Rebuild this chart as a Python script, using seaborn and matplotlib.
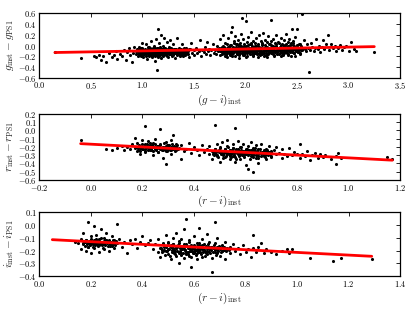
import matplotlib
matplotlib.use("Agg")
import matplotlib.pyplot as plt
import matplotlib.ticker as mticker
import pandas as pd
import seaborn as sns

# (colour_inst, mag_inst - mag_PS1) pairs
# g band: scattered stars
g_pts = [
    (0.15,-0.12),(0.40,-0.23),(0.53,-0.20),(0.55,-0.22),(0.58,-0.17),(0.60,-0.27),(0.62,-0.20),(0.65,-0.30),
    (0.68,-0.13),(0.70,-0.22),(0.72,-0.18),(0.74,-0.10),(0.75,-0.25),(0.78,-0.15),(0.80,-0.20),(0.82,-0.08),
    (0.84,-0.27),(0.85,-0.12),(0.87,-0.05),(0.88,-0.18),(0.90,-0.30),(0.91,-0.13),(0.92,-0.02),
    (0.94,-0.10),(0.94,-0.16),(0.95,-0.06),(0.96,-0.12),(0.96,-0.20),(0.97,-0.03),(0.98,-0.14),(0.98,-0.09),
    (0.99,-0.18),(1.00,-0.11),(1.00,-0.05),(1.00,0.05),(1.01,-0.22),(1.02,-0.08),(1.02,-0.13),(1.03,-0.16),
    (1.03,0.02),(1.04,-0.10),(1.04,-0.25),(1.05,-0.06),(1.05,-0.14),(1.06,-0.19),(1.06,-0.02),(1.07,-0.11),
    (1.07,-0.08),(1.08,-0.15),(1.08,0.08),(1.09,-0.12),(1.09,-0.21),(1.10,-0.04),(1.10,-0.09),(1.10,-0.17),
    (1.11,-0.13),(1.11,0.00),(1.12,-0.07),(1.12,-0.19),(1.12,-0.28),(1.13,-0.10),(1.13,-0.14),(1.13,0.12),
    (1.14,-0.05),(1.14,-0.45),(1.14,-0.16),(1.15,0.30),(1.15,-0.11),(1.15,-0.22),(1.16,-0.08),(1.16,-0.13),
    (1.16,0.04),(1.17,-0.18),(1.17,-0.02),(1.18,-0.10),(1.18,-0.24),(1.18,0.20),(1.19,-0.06),(1.19,-0.15),
    (1.20,-0.12),(1.20,-0.01),(1.20,-0.20),(1.21,-0.09),(1.21,0.15),(1.22,-0.14),(1.22,-0.05),(1.23,-0.17),
    (1.23,-0.11),(1.24,-0.08),(1.24,0.06),(1.25,-0.13),(1.25,-0.21),(1.26,-0.03),(1.26,-0.10),(1.27,-0.16),
    (1.27,0.10),(1.28,-0.07),(1.28,-0.12),(1.29,-0.19),(1.30,-0.09),(1.30,0.02),(1.31,-0.14),(1.32,-0.06),
    (1.32,-0.23),(1.33,-0.11),(1.34,-0.15),(1.34,0.14),(1.35,-0.04),(1.36,-0.10),(1.36,-0.18),(1.37,-0.07),
    (1.38,-0.13),(1.38,0.03),(1.39,-0.20),(1.40,-0.09),(1.41,-0.12),(1.42,-0.05),(1.42,-0.16),(1.44,-0.10),
    (1.45,-0.22),(1.46,-0.07),(1.47,0.05),(1.48,-0.13),(1.50,-0.09),(1.50,-0.18),
    (1.52,-0.05),(1.53,-0.14),(1.55,-0.10),(1.56,0.10),(1.57,-0.20),(1.58,-0.08),(1.60,-0.12),(1.61,-0.02),
    (1.62,-0.16),(1.63,0.07),(1.64,-0.10),(1.65,-0.06),(1.66,-0.18),(1.67,-0.09),(1.68,0.02),(1.69,-0.13),
    (1.70,-0.08),(1.71,-0.15),(1.72,0.00),(1.73,-0.11),(1.74,-0.05),(1.75,-0.18),(1.75,0.12),(1.76,-0.09),
    (1.77,-0.02),(1.78,-0.13),(1.78,0.20),(1.79,-0.07),(1.80,-0.16),(1.80,0.05),(1.81,-0.10),(1.82,-0.04),
    (1.82,-0.21),(1.83,0.15),(1.83,-0.08),(1.84,-0.12),(1.85,0.01),(1.85,-0.17),(1.86,-0.06),(1.86,0.25),
    (1.87,-0.10),(1.87,0.35),(1.88,-0.03),(1.88,-0.14),(1.89,0.08),(1.89,-0.09),(1.90,-0.19),(1.90,-0.05),
    (1.90,0.18),(1.91,-0.11),(1.91,0.02),(1.92,-0.07),(1.92,-0.15),(1.93,0.10),(1.93,-0.02),(1.94,-0.12),
    (1.94,-0.24),(1.95,-0.06),(1.95,0.04),(1.96,-0.09),(1.96,0.22),(1.97,0.52),(1.97,-0.14),(1.97,-0.03),
    (1.98,-0.08),(1.98,0.12),(1.99,-0.17),(1.99,0.00),(2.00,0.45),(2.00,-0.10),(2.00,-0.05),(2.01,0.07),
    (2.01,-0.20),(2.02,-0.12),(2.02,0.16),(2.03,-0.04),(2.03,-0.08),(2.04,-0.15),(2.04,0.03),(2.05,-0.06),
    (2.05,0.26),(2.06,-0.11),(2.06,-0.01),(2.07,-0.18),(2.07,0.09),(2.08,-0.07),(2.08,-0.13),(2.09,0.05),
    (2.09,-0.03),(2.10,-0.10),(2.10,0.14),(2.11,-0.16),(2.11,-0.06),(2.12,0.00),(2.12,-0.22),(2.13,-0.09),
    (2.13,0.19),(2.14,-0.04),(2.14,-0.12),(2.15,0.08),(2.15,-0.07),(2.16,-0.15),(2.16,0.02),(2.17,-0.10),
    (2.17,0.24),(2.18,-0.05),(2.18,-0.19),(2.19,0.11),(2.19,-0.08),(2.20,-0.02),(2.20,-0.13),(2.21,0.06),
    (2.21,-0.09),(2.22,-0.16),(2.22,0.17),(2.23,-0.04),(2.23,-0.11),(2.24,0.03),(2.24,-0.07),(2.25,0.48),
    (2.25,-0.14),(2.25,0.09),(2.26,-0.06),(2.26,-0.01),(2.27,-0.12),(2.27,0.13),(2.28,-0.08),(2.28,-0.20),
    (2.29,0.04),(2.29,-0.03),(2.30,-0.10),(2.30,0.20),(2.31,-0.15),(2.31,-0.05),(2.32,0.07),(2.32,-0.09),
    (2.33,-0.02),(2.33,-0.13),(2.34,0.15),(2.34,-0.07),(2.35,-0.11),(2.35,0.02),(2.36,-0.17),(2.36,-0.04),
    (2.37,0.10),(2.37,-0.08),(2.38,-0.12),(2.38,0.01),(2.39,-0.06),(2.39,0.22),(2.40,-0.10),(2.40,-0.02),
    (2.41,0.06),(2.41,-0.15),(2.42,-0.07),(2.42,0.12),(2.43,-0.03),(2.43,-0.11),(2.44,0.04),(2.44,-0.19),
    (2.45,0.30),(2.45,-0.06),(2.46,-0.09),(2.46,0.08),(2.47,-0.01),(2.47,-0.13),(2.48,-0.05),(2.48,0.16),
    (2.49,-0.08),(2.50,0.30),(2.50,-0.03),(2.51,-0.12),(2.52,0.03),(2.52,-0.07),(2.53,-0.15),(2.54,0.00),
    (2.55,0.58),(2.55,-0.09),(2.56,-0.04),(2.57,0.10),(2.58,-0.06),(2.59,-0.11),(2.60,0.02),
    (2.61,-0.05),(2.62,-0.50),(2.63,-0.08),(2.64,0.05),(2.65,-0.02),(2.66,-0.10),(2.67,-0.04),(2.68,0.12),
    (2.70,-0.07),(2.71,0.00),(2.72,-0.12),(2.74,-0.03),(2.75,0.10),(2.76,-0.06),(2.78,0.02),(2.80,0.20),
    (2.81,-0.08),(2.83,0.03),(2.85,-0.04),(2.87,-0.01),(2.88,-0.10),(2.90,-0.05),(2.92,0.01),(2.94,-0.08),
    (2.96,-0.03),(2.98,0.00),(3.00,-0.10),(3.02,0.07),(3.05,-0.06),(3.07,-0.10),(3.25,-0.12),
]
# g band: dense cores of the two clumps
g_core = [
    (0.955,-0.125),(0.962,-0.072),(0.968,-0.158),(0.975,-0.104),(0.981,-0.187),(0.987,-0.046),(0.993,-0.132),
    (1.004,-0.089),(1.009,-0.171),(1.015,-0.113),(1.021,-0.058),(1.027,-0.146),(1.033,-0.097),(1.039,-0.192),
    (1.045,-0.121),(1.051,-0.035),(1.057,-0.163),(1.063,-0.084),(1.069,-0.139),(1.075,-0.107),(1.081,-0.176),
    (1.087,-0.062),(1.093,-0.151),(1.099,-0.118),(1.105,-0.093),(1.111,-0.184),(1.117,-0.041),(1.123,-0.128),
    (1.129,-0.165),(1.135,-0.076),(1.141,-0.109),(1.147,-0.143),(1.153,-0.054),(1.159,-0.197),(1.165,-0.102),
    (1.171,-0.135),(1.177,-0.069),(1.183,-0.158),(1.189,-0.115),(1.195,-0.088),(1.201,-0.172),(1.207,-0.049),
    (1.213,-0.124),(1.219,-0.149),(1.225,-0.081),(1.231,-0.106),(1.237,-0.188),(1.243,-0.063),(1.249,-0.137),
    (1.255,-0.095),(1.261,-0.161),(1.267,-0.119),(1.273,-0.044),(1.279,-0.152),(1.285,-0.087),(1.291,-0.126),
    (1.297,-0.178),(1.303,-0.071),(1.309,-0.113),(1.315,-0.145),(1.321,-0.098),(1.327,-0.057),(1.333,-0.168),
    (1.339,-0.121),(1.345,-0.083),(1.351,-0.139),(1.357,-0.104),(1.363,-0.186),(1.369,-0.066),(1.375,-0.131),
    (1.381,-0.092),(1.387,-0.155),(1.393,-0.114),(1.399,-0.052),(1.405,-0.143),(1.411,-0.101),(1.417,-0.174),
    (1.423,-0.078),(1.429,-0.127),(1.435,-0.109),(1.441,-0.161),(1.447,-0.069),
    (0.958,-0.095),(0.971,-0.141),(0.984,-0.112),(0.997,-0.067),(1.012,-0.152),(1.024,-0.128),(1.036,-0.074),
    (1.048,-0.101),(1.060,-0.138),(1.072,-0.052),(1.084,-0.119),(1.096,-0.161),(1.108,-0.137),(1.120,-0.099),
    (1.132,-0.121),(1.144,-0.179),(1.156,-0.086),(1.168,-0.112),(1.180,-0.133),(1.192,-0.058),(1.204,-0.141),
    (1.216,-0.097),(1.228,-0.163),(1.240,-0.117),(1.252,-0.072),(1.264,-0.139),(1.276,-0.103),(1.288,-0.061),
    (1.300,-0.148),(1.312,-0.124),(1.324,-0.084),(1.336,-0.107),(1.348,-0.163),(1.360,-0.129),(1.372,-0.091),
    (1.384,-0.118),(1.396,-0.146),(1.408,-0.083),(1.420,-0.122),(1.432,-0.141),
    (1.752,-0.101),(1.761,-0.043),(1.769,-0.152),(1.778,-0.087),(1.787,-0.019),(1.795,-0.126),(1.804,-0.064),
    (1.812,-0.171),(1.821,-0.098),(1.829,-0.031),(1.838,-0.139),(1.846,-0.075),(1.855,-0.112),(1.863,0.004),
    (1.872,-0.158),(1.880,-0.054),(1.889,-0.121),(1.897,-0.083),(1.906,-0.025),(1.914,-0.147),(1.923,-0.066),
    (1.931,-0.104),(1.940,0.012),(1.948,-0.131),(1.957,-0.048),(1.965,-0.093),(1.974,-0.169),(1.982,-0.036),
    (1.991,-0.117),(1.999,-0.071),(2.008,-0.009),(2.016,-0.142),(2.025,-0.089),(2.033,-0.052),(2.042,-0.126),
    (2.050,0.021),(2.059,-0.101),(2.067,-0.163),(2.076,-0.038),(2.084,-0.079),(2.093,-0.134),(2.101,-0.015),
    (2.110,-0.108),(2.118,-0.061),(2.127,-0.152),(2.135,-0.027),(2.144,-0.094),(2.152,-0.121),(2.161,0.008),
    (2.169,-0.072),(2.178,-0.143),(2.186,-0.044),(2.195,-0.103),(2.203,-0.168),(2.212,-0.021),(2.220,-0.086),
    (2.229,-0.129),(2.237,-0.057),(2.246,0.017),(2.254,-0.112),(2.263,-0.073),(2.271,-0.149),(2.280,-0.034),
    (2.288,-0.097),(2.297,-0.006),(2.305,-0.124),(2.314,-0.062),(2.322,-0.156),(2.331,-0.041),(2.339,-0.088),
    (2.348,0.011),(2.356,-0.118),(2.365,-0.069),(2.373,-0.137),(2.382,-0.025),(2.390,-0.093),(2.399,-0.051),
    (2.407,-0.146),(2.416,-0.014),(2.424,-0.078),(2.433,-0.121),(2.441,-0.039),(2.450,-0.099),(2.458,0.019),
    (2.467,-0.066),(2.475,-0.131),(2.484,-0.047),(2.492,-0.087),(2.501,-0.018),(2.509,-0.112),(2.518,-0.058),
    (2.526,-0.139),(2.535,-0.029),(2.543,-0.081),
    (1.757,-0.071),(1.774,-0.118),(1.791,-0.056),(1.808,-0.093),(1.825,-0.136),(1.842,-0.049),(1.859,-0.084),
    (1.876,-0.118),(1.893,-0.047),(1.910,-0.109),(1.927,-0.139),(1.944,-0.079),(1.961,-0.018),(1.978,-0.101),
    (1.995,-0.138),(2.012,-0.063),(2.029,-0.112),(2.046,-0.079),(2.063,-0.029),(2.080,-0.121),(2.097,-0.057),
    (2.114,-0.138),(2.131,-0.082),(2.148,-0.049),(2.165,-0.113),(2.182,-0.091),(2.199,-0.041),(2.216,-0.133),
    (2.233,-0.097),(2.250,-0.061),(2.267,-0.017),(2.284,-0.121),(2.301,-0.078),(2.318,-0.103),(2.335,-0.058),
    (2.352,-0.143),(2.369,-0.033),(2.386,-0.117),(2.403,-0.071),(2.420,-0.104),(2.437,-0.058),(2.454,-0.122),
    (2.471,-0.036),(2.488,-0.109),(2.505,-0.066),(2.522,-0.091),(2.539,-0.052),
    (1.784,-0.004),(1.817,0.031),(1.851,-0.012),(1.884,0.043),(1.918,0.021),(1.952,-0.003),(1.986,0.037),
    (2.020,0.014),(2.054,0.049),(2.088,-0.002),(2.122,0.028),(2.156,0.052),(2.190,0.009),(2.224,0.036),
    (2.258,-0.011),(2.292,0.024),(2.326,0.047),(2.360,0.003),(2.394,0.031),(2.428,0.015),(2.462,0.042),
    (2.496,0.006),(2.530,0.027),
    (1.801,-0.188),(1.867,-0.203),(1.935,-0.181),(2.003,-0.214),(2.071,-0.192),(2.139,-0.177),(2.207,-0.206),
    (2.275,-0.185),(2.343,-0.197),(2.411,-0.174),(2.479,-0.191),
]

# r band
r_pts = [
    (-0.04,-0.11),(0.06,-0.22),(0.08,-0.24),(0.10,-0.21),(0.12,-0.19),(0.13,-0.24),(0.14,-0.20),(0.15,-0.23),
    (0.16,-0.17),(0.17,-0.09),(0.17,-0.21),(0.18,-0.25),(0.18,-0.15),(0.19,-0.19),(0.19,-0.28),(0.20,-0.12),
    (0.20,-0.22),(0.21,0.05),(0.21,-0.17),(0.21,-0.26),(0.22,-0.20),(0.22,-0.13),(0.23,-0.24),(0.23,-0.18),
    (0.24,-0.30),(0.24,-0.15),(0.25,-0.21),(0.25,-0.10),(0.26,-0.19),(0.26,-0.26),(0.27,0.02),(0.27,-0.23),
    (0.27,-0.16),(0.28,-0.20),(0.28,-0.33),(0.29,-0.41),(0.29,-0.14),(0.29,-0.25),(0.30,-0.18),(0.30,-0.22),
    (0.31,-0.12),(0.31,-0.28),(0.32,-0.05),(0.32,-0.20),(0.33,-0.24),(0.33,-0.16),(0.34,-0.21),(0.35,-0.35),
    (0.35,-0.18),(0.36,-0.25),(0.37,-0.22),(0.38,-0.15),(0.39,-0.27),(0.40,-0.20),(0.41,-0.24),(0.42,-0.30),
    (0.43,-0.18),(0.44,-0.26),(0.45,-0.22),
    (0.46,-0.29),(0.46,-0.19),(0.47,-0.25),(0.47,-0.34),(0.48,0.06),(0.48,-0.22),(0.48,-0.28),(0.49,-0.17),
    (0.49,-0.31),(0.50,-0.25),(0.50,-0.20),(0.50,-0.38),(0.51,-0.27),(0.51,-0.14),(0.52,-0.23),(0.52,-0.32),
    (0.53,-0.19),(0.53,-0.27),(0.53,-0.11),(0.54,-0.24),(0.54,-0.35),(0.54,-0.29),(0.55,-0.21),(0.55,-0.16),
    (0.55,-0.31),(0.56,0.03),(0.56,-0.26),(0.56,-0.38),(0.57,-0.23),(0.57,-0.29),(0.57,-0.13),(0.58,-0.27),
    (0.58,-0.20),(0.58,-0.34),(0.59,-0.25),(0.59,-0.30),(0.59,-0.17),(0.60,-0.28),(0.60,-0.22),(0.60,-0.42),
    (0.61,-0.47),(0.61,-0.26),(0.61,-0.19),(0.62,-0.31),(0.62,-0.24),(0.62,-0.14),(0.63,-0.50),(0.63,-0.28),
    (0.63,-0.21),(0.64,-0.33),(0.64,-0.26),(0.64,-0.18),(0.65,-0.29),(0.65,-0.23),(0.65,-0.39),(0.66,-0.27),
    (0.66,-0.16),(0.67,-0.31),(0.67,-0.25),(0.68,-0.22),(0.68,-0.35),(0.69,-0.28),(0.69,-0.19),(0.70,-0.26),
    (0.70,-0.32),(0.71,-0.24),(0.72,-0.29),(0.72,-0.20),(0.73,-0.27),(0.74,-0.33),(0.74,-0.23),(0.75,-0.28),
    (0.76,-0.31),(0.77,-0.21),(0.78,-0.30),(0.79,-0.26),(0.80,-0.29),(0.81,-0.17),(0.81,-0.33),(0.82,-0.28),
    (0.83,-0.31),(0.84,-0.25),(0.85,-0.36),(0.86,-0.30),(0.87,-0.27),(0.88,-0.33),(0.89,-0.29),(0.90,-0.32),
    (0.91,-0.30),(0.93,-0.34),(0.95,-0.41),(0.95,-0.31),(0.96,-0.27),(0.97,-0.33),(1.15,-0.32),(1.17,-0.34),
]
r_core = [
    (0.181,-0.214),(0.186,-0.176),(0.190,-0.243),(0.194,-0.198),(0.198,-0.161),(0.202,-0.229),(0.206,-0.187),
    (0.210,-0.255),(0.214,-0.207),(0.218,-0.168),(0.222,-0.236),(0.226,-0.193),(0.230,-0.152),(0.234,-0.219),
    (0.238,-0.181),(0.242,-0.247),(0.246,-0.203),(0.250,-0.166),(0.254,-0.231),(0.258,-0.189),(0.262,-0.262),
    (0.266,-0.211),(0.270,-0.173),(0.274,-0.239),(0.278,-0.196),(0.282,-0.158),(0.286,-0.224),(0.290,-0.184),
    (0.294,-0.251),(0.298,-0.209),(0.302,-0.171),(0.306,-0.233),(0.310,-0.197),(0.314,-0.163),(0.318,-0.226),
    (0.322,-0.188),(0.326,-0.244),(0.330,-0.206),(0.334,-0.178),(0.338,-0.221),
    (0.184,-0.232),(0.192,-0.214),(0.200,-0.196),(0.208,-0.221),(0.216,-0.184),(0.224,-0.212),(0.232,-0.238),
    (0.240,-0.199),(0.248,-0.224),(0.256,-0.207),(0.264,-0.183),(0.272,-0.216),(0.280,-0.231),(0.288,-0.201),
    (0.296,-0.181),(0.304,-0.214),(0.312,-0.238),(0.320,-0.204),(0.328,-0.222),
    (0.472,-0.262),(0.476,-0.301),(0.480,-0.228),(0.484,-0.281),(0.488,-0.243),(0.492,-0.319),(0.496,-0.267),
    (0.500,-0.212),(0.504,-0.291),(0.508,-0.249),(0.512,-0.333),(0.516,-0.274),(0.520,-0.226),(0.524,-0.306),
    (0.528,-0.258),(0.532,-0.197),(0.536,-0.287),(0.540,-0.238),(0.544,-0.322),(0.548,-0.269),(0.552,-0.215),
    (0.556,-0.298),(0.560,-0.252),(0.564,-0.341),(0.568,-0.279),(0.572,-0.231),(0.576,-0.312),(0.580,-0.263),
    (0.584,-0.204),(0.588,-0.294),(0.592,-0.246),(0.596,-0.327),(0.600,-0.272),(0.604,-0.219),(0.608,-0.303),
    (0.612,-0.256),(0.616,-0.348),(0.620,-0.284),(0.624,-0.234),(0.628,-0.316),(0.632,-0.266),(0.636,-0.208),
    (0.640,-0.297),(0.644,-0.249),(0.648,-0.331),(0.652,-0.276),(0.656,-0.227),(0.660,-0.309),(0.664,-0.259),
    (0.668,-0.288),(0.672,-0.241),(0.676,-0.321),(0.680,-0.271),(0.684,-0.232),(0.688,-0.301),(0.692,-0.262),
    (0.696,-0.283),(0.700,-0.248),
    (0.474,-0.286),(0.482,-0.258),(0.490,-0.294),(0.498,-0.238),(0.506,-0.271),(0.514,-0.299),(0.522,-0.252),
    (0.530,-0.283),(0.538,-0.309),(0.546,-0.241),(0.554,-0.276),(0.562,-0.229),(0.570,-0.262),(0.578,-0.289),
    (0.586,-0.271),(0.594,-0.301),(0.602,-0.244),(0.610,-0.281),(0.618,-0.261),(0.626,-0.293),(0.634,-0.238),
    (0.642,-0.275),(0.650,-0.306),(0.658,-0.263),(0.666,-0.281),(0.674,-0.296),(0.682,-0.253),(0.690,-0.279),
    (0.698,-0.305),
    (0.542,-0.291),(0.551,-0.258),(0.559,-0.317),(0.566,-0.267),(0.574,-0.288),(0.581,-0.241),(0.589,-0.276),
    (0.597,-0.251),(0.605,-0.289),(0.613,-0.233),(0.621,-0.271),(0.629,-0.299),(0.637,-0.253),(0.645,-0.284),
]

# i band
i_pts = [
    (0.14,-0.13),(0.15,-0.14),(0.16,-0.19),(0.16,-0.11),(0.17,-0.06),(0.17,-0.15),(0.18,-0.12),(0.18,-0.20),
    (0.19,0.02),(0.19,-0.13),(0.19,-0.17),(0.20,-0.09),(0.20,-0.15),(0.20,-0.22),(0.21,-0.01),(0.21,-0.12),
    (0.21,-0.18),(0.22,-0.14),(0.22,-0.08),(0.23,-0.16),(0.23,-0.11),(0.23,-0.21),(0.24,-0.13),(0.24,-0.03),
    (0.25,-0.15),(0.25,-0.10),(0.25,-0.19),(0.26,-0.12),(0.26,-0.06),(0.27,-0.14),(0.27,-0.20),(0.28,-0.09),
    (0.28,-0.16),(0.29,-0.12),(0.29,-0.18),(0.30,0.005),(0.30,-0.14),(0.31,-0.11),(0.32,-0.17),(0.33,-0.13),
    (0.34,-0.22),(0.35,-0.12),(0.36,-0.15),(0.37,-0.11),(0.38,-0.18),(0.39,-0.13),(0.40,-0.09),(0.41,-0.16),
    (0.42,-0.14),(0.43,-0.12),(0.44,-0.19),
    (0.45,-0.15),(0.46,-0.21),(0.46,-0.11),(0.47,-0.18),(0.47,-0.25),(0.48,-0.14),(0.48,-0.20),(0.49,-0.08),
    (0.49,-0.17),(0.50,-0.23),(0.50,-0.13),(0.50,-0.19),(0.51,-0.16),(0.51,-0.27),(0.52,-0.10),(0.52,-0.20),
    (0.52,-0.15),(0.53,-0.18),(0.53,-0.24),(0.53,-0.06),(0.54,-0.14),(0.54,-0.21),(0.54,-0.30),(0.55,-0.17),
    (0.55,-0.11),(0.55,-0.22),(0.56,-0.19),(0.56,-0.03),(0.56,-0.26),(0.57,0.05),(0.57,-0.15),(0.57,-0.21),
    (0.58,-0.18),(0.58,-0.12),(0.58,-0.24),(0.59,-0.33),(0.59,-0.16),(0.59,-0.20),(0.60,-0.09),(0.60,-0.22),
    (0.60,-0.17),(0.61,-0.14),(0.61,-0.27),(0.61,-0.19),(0.62,-0.02),(0.62,-0.21),(0.62,-0.16),(0.63,-0.18),
    (0.63,-0.25),(0.63,-0.11),(0.64,-0.20),(0.64,-0.15),(0.65,-0.23),(0.65,-0.07),(0.65,-0.18),(0.66,-0.13),
    (0.66,-0.21),(0.67,-0.37),(0.67,-0.17),(0.67,-0.26),(0.68,0.02),(0.68,-0.19),(0.68,-0.14),(0.69,-0.22),
    (0.69,-0.10),(0.70,-0.18),(0.70,-0.24),(0.71,-0.16),(0.71,-0.20),(0.72,-0.13),(0.72,-0.27),(0.73,-0.19),
    (0.74,-0.17),(0.74,-0.22),(0.75,-0.15),(0.76,-0.20),(0.77,-0.18),(0.78,-0.23),(0.79,-0.16),(0.80,-0.21),
    (0.81,-0.19),(0.82,-0.25),(0.83,-0.08),(0.83,-0.18),(0.84,-0.21),(0.85,-0.17),(0.86,-0.14),(0.87,-0.22),
    (0.88,-0.19),(0.90,-0.21),(0.92,-0.23),(0.94,-0.20),(0.96,-0.19),(0.97,-0.22),(0.98,-0.19),(1.05,-0.26),
    (1.14,-0.28),(1.17,-0.26),(1.29,-0.27),
]
i_core = [
    (0.171,-0.139),(0.175,-0.162),(0.179,-0.118),(0.183,-0.149),(0.187,-0.171),(0.191,-0.127),(0.195,-0.155),
    (0.199,-0.108),(0.203,-0.142),(0.207,-0.176),(0.211,-0.131),(0.215,-0.158),(0.219,-0.113),(0.223,-0.146),
    (0.227,-0.168),(0.231,-0.124),(0.235,-0.151),(0.239,-0.105),(0.243,-0.137),(0.247,-0.179),(0.251,-0.128),
    (0.255,-0.154),(0.259,-0.117),(0.263,-0.143),(0.267,-0.166),(0.271,-0.121),(0.275,-0.148),(0.279,-0.132),
    (0.283,-0.161),(0.287,-0.115),(0.291,-0.141),(0.295,-0.157),(0.299,-0.126),
    (0.177,-0.131),(0.185,-0.137),(0.193,-0.144),(0.201,-0.126),(0.209,-0.151),(0.217,-0.135),(0.225,-0.129),
    (0.233,-0.138),(0.241,-0.157),(0.249,-0.141),(0.257,-0.133),(0.265,-0.122),(0.273,-0.163),(0.281,-0.145),
    (0.289,-0.129),
    (0.472,-0.181),(0.476,-0.214),(0.480,-0.152),(0.484,-0.196),(0.488,-0.231),(0.492,-0.167),(0.496,-0.205),
    (0.500,-0.139),(0.504,-0.188),(0.508,-0.243),(0.512,-0.174),(0.516,-0.211),(0.520,-0.146),(0.524,-0.193),
    (0.528,-0.226),(0.532,-0.162),(0.536,-0.201),(0.540,-0.129),(0.544,-0.183),(0.548,-0.238),(0.552,-0.171),
    (0.556,-0.216),(0.560,-0.149),(0.564,-0.197),(0.568,-0.229),(0.572,-0.164),(0.576,-0.208),(0.580,-0.136),
    (0.584,-0.186),(0.588,-0.247),(0.592,-0.176),(0.596,-0.219),(0.600,-0.155),(0.604,-0.199),(0.608,-0.233),
    (0.612,-0.168),(0.616,-0.204),(0.620,-0.142),(0.624,-0.191),(0.628,-0.224),(0.632,-0.159),(0.636,-0.212),
    (0.640,-0.178),(0.644,-0.239),(0.648,-0.165),(0.652,-0.201),(0.656,-0.148),(0.660,-0.188),(0.664,-0.221),
    (0.668,-0.172),(0.672,-0.209),(0.676,-0.156),(0.680,-0.194),(0.684,-0.231),(0.688,-0.176),(0.692,-0.203),
    (0.696,-0.161),(0.700,-0.189),(0.705,-0.215),(0.710,-0.173),(0.715,-0.198),(0.720,-0.184),(0.725,-0.207),
    (0.730,-0.178),(0.735,-0.194),
    (0.474,-0.198),(0.482,-0.173),(0.490,-0.206),(0.498,-0.187),(0.506,-0.162),(0.514,-0.196),(0.522,-0.219),
    (0.530,-0.183),(0.538,-0.158),(0.546,-0.204),(0.554,-0.191),(0.562,-0.175),(0.570,-0.213),(0.578,-0.184),
    (0.586,-0.163),(0.594,-0.201),(0.602,-0.179),(0.610,-0.216),(0.618,-0.188),(0.626,-0.171),(0.634,-0.196),
    (0.642,-0.207),(0.650,-0.183),(0.658,-0.169),(0.666,-0.198),(0.674,-0.184),(0.682,-0.211),(0.690,-0.186),
    (0.698,-0.174),(0.708,-0.201),(0.718,-0.169),
    (0.518,-0.183),(0.527,-0.201),(0.535,-0.176),(0.543,-0.221),(0.551,-0.188),(0.559,-0.166),(0.567,-0.194),
    (0.575,-0.229),(0.583,-0.203),(0.591,-0.188),(0.599,-0.215),(0.607,-0.192),(0.615,-0.177),(0.623,-0.209),
    (0.631,-0.186),(0.639,-0.199),(0.647,-0.222),(0.655,-0.176),
]

# fitted lines, end points
g_fit_x = [0.15, 3.25]
g_fit_y = [-0.13, -0.02]
r_fit_x = [-0.04, 1.17]
r_fit_y = [-0.16, -0.36]
i_fit_x = [0.05, 1.29]
i_fit_y = [-0.115, -0.245]

panels = [
    dict(pts=g_pts + g_core, fx=g_fit_x, fy=g_fit_y, xlim=(0, 3.5), ylim=(-0.6, 0.6), xstep=0.5, ystep=0.2,
         xlabel=r"$(g-i)_{\rm inst}$", ylabel=r"$g_{\rm inst}-g_{\rm PS1}$", box=(0.095, 0.751, 0.869, 0.206)),
    dict(pts=r_pts + r_core, fx=r_fit_x, fy=r_fit_y, xlim=(-0.2, 1.2), ylim=(-0.6, 0.2), xstep=0.2, ystep=0.1,
         xlabel=r"$(r-i)_{\rm inst}$", ylabel=r"$r_{\rm inst}-r_{\rm PS1}$", box=(0.095, 0.423, 0.869, 0.212)),
    dict(pts=i_pts + i_core, fx=i_fit_x, fy=i_fit_y, xlim=(0, 1.4), ylim=(-0.4, 0.1), xstep=0.2, ystep=0.1,
         xlabel=r"$(r-i)_{\rm inst}$", ylabel=r"$i_{\rm inst}-i_{\rm PS1}$", box=(0.095, 0.115, 0.869, 0.205)),
]

sns.set_style("white")
plt.rcParams.update({
    "mathtext.fontset": "cm",
    "font.family": ["DejaVu Serif"],
    "xtick.direction": "in", "ytick.direction": "in",
    "xtick.top": True, "ytick.right": True,
    "xtick.major.size": 3, "ytick.major.size": 3,
    "xtick.major.width": 0.6, "ytick.major.width": 0.6,
    "axes.edgecolor": "black", "axes.linewidth": 0.9,
})

fig = plt.figure(figsize=(4.15, 3.12), dpi=100)
fmt = mticker.FuncFormatter(lambda v, p: r"$%.1f$" % (0.0 if abs(v) < 1e-9 else v))

for p in panels:
    ax = fig.add_axes(p["box"])
    df = pd.DataFrame(p["pts"], columns=["x", "y"])
    sns.scatterplot(data=df, x="x", y="y", ax=ax, color="black", s=5, marker="o", linewidth=0)
    ax.plot(p["fx"], p["fy"], color="red", lw=2)
    ax.set_xlim(*p["xlim"])
    ax.set_ylim(*p["ylim"])
    ax.xaxis.set_major_locator(mticker.MultipleLocator(p["xstep"]))
    ax.yaxis.set_major_locator(mticker.MultipleLocator(p["ystep"]))
    ax.xaxis.set_major_formatter(fmt)
    ax.yaxis.set_major_formatter(fmt)
    ax.tick_params(labelsize=6, pad=2, colors="black")
    ax.set_xlabel(p["xlabel"], fontsize=8, labelpad=1)
    ax.set_ylabel(p["ylabel"], fontsize=8, labelpad=1)

fig.savefig("out.png", dpi=100)
